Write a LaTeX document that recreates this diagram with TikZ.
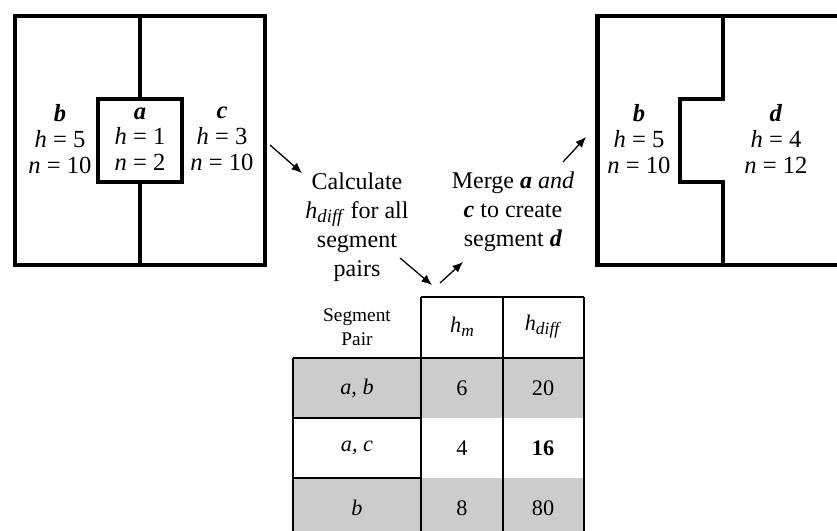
\documentclass[tikz,border=0pt]{standalone}
\usepackage{fontspec}
\setmainfont{Liberation Serif}
\usetikzlibrary{arrows.meta}

\newcommand{\subidx}[1]{\raisebox{-0.4ex}{\scalebox{0.78}{\textit{#1}}}}

\tikzset{
  wall/.style={line width=4.2pt},
  grid/.style={line width=1.9pt},
  flow/.style={line width=1.1pt,-{Latex[length=9pt,width=7.5pt]}},
  seglabel/.style={align=center,font=\fontsize{21}{22}\selectfont},
  steptext/.style={align=center,font=\fontsize{20.5}{24.8}\selectfont},
  headcell/.style={align=center,font=\fontsize{16.5}{21}\selectfont},
  cell/.style={align=center,font=\fontsize{19}{21}\selectfont}
}

\begin{document}
\begin{tikzpicture}[x=0.03cm,y=-0.03cm]
\useasboundingbox (0,0) rectangle (837,531);
\clip (0,0) rectangle (837,531);
% segments before the merge
\draw[wall] (15,16) rectangle (265,265);
\draw[wall] (140,16) -- (140,99);
\draw[wall] (140,182) -- (140,265);
\draw[wall] (98,99) rectangle (182,182);
\node[seglabel] (segB) at (60,139) {\textbf{\textit{b}}\\\textit{h} = 5\\\textit{n} = 10};
\node[seglabel] (segA) at (140,139) {\textbf{\textit{a}}\\\textit{h} = 1\\\textit{n} = 2};
\node[seglabel] (segC) at (222,139) {\textbf{\textit{c}}\\\textit{h} = 3\\\textit{n} = 10};
% segments after the merge
\draw[wall] (850,16) -- (597.5,16) -- (597.5,265) -- (850,265);
\draw[wall] (723,16) -- (723,99) -- (680,99) -- (680,182) -- (723,182) -- (723,265);
\node[seglabel] (newB) at (639,139) {\textbf{\textit{b}}\\\textit{h} = 5\\\textit{n} = 10};
\node[seglabel] (newD) at (776,139) {\textbf{\textit{d}}\\\textit{h} = 4\\\textit{n} = 12};
% steps
\node[steptext] (calc) at (357,227) {Calculate\\\textit{h}\subidx{diff} for all\\segment\\pairs};
\node[steptext] (merge) at (513,212) {Merge \textbf{\textit{a}} \textit{and}\\\textbf{\textit{c}} to create\\segment \textbf{\textit{d}}};
\coordinate (in1) at (270,145);
\coordinate (out1) at (302,173);
\coordinate (in2) at (400,258);
\coordinate (out2) at (432,285);
\coordinate (in3) at (440,283);
\coordinate (out3) at (463,262);
\coordinate (in4) at (563,162);
\coordinate (out4) at (586,137);
\draw[flow] (in1) -- (out1);
\draw[flow] (in2) -- (out2);
\draw[flow] (in3) -- (out3);
\draw[flow] (in4) -- (out4);
% table of pairs
\fill[gray!40] (293,358) rectangle (584,418);
\fill[gray!40] (293,478) rectangle (584,545);
\draw[grid] (421,297) -- (584,297);
\draw[grid] (293,358) -- (584,358);
\draw[grid] (293,418) -- (421,418);
\draw[grid] (293,478) -- (421,478);
\draw[grid] (293,358) -- (293,545);
\draw[grid] (421,297) -- (421,545);
\draw[grid] (503,297) -- (503,545);
\draw[grid] (584,297) -- (584,545);
\node[headcell] (hPair) at (357,327) {Segment\\Pair};
\node[cell] (hMean) at (462,327) {\textit{h}\subidx{m}};
\node[cell] (hDiff) at (543,327) {\textit{h}\subidx{diff}};
\node[cell] (pAB) at (357,388) {\textit{a, b}};
\node[cell] (mAB) at (462,388) {6};
\node[cell] (dAB) at (543,388) {20};
\node[cell] (pAC) at (357,448) {\textit{a, c}};
\node[cell] (mAC) at (462,448) {4};
\node[cell] (dAC) at (543,448) {\textbf{16}};
\node[cell] (pB) at (357,508) {\textit{b}};
\node[cell] (mB) at (462,508) {8};
\node[cell] (dB) at (543,508) {80};
\end{tikzpicture}
\end{document}
